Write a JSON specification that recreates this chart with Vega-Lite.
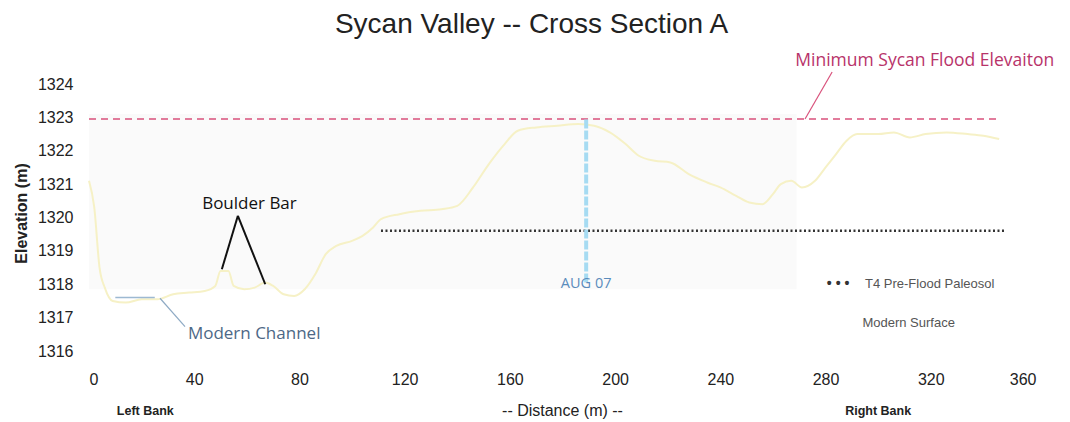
{
  "$schema": "https://vega.github.io/schema/vega-lite/v6.json",
  "width": 947,
  "height": 267,
  "autosize": {"type": "none"},
  "padding": {"left": 89, "top": 84, "right": 34, "bottom": 71},
  "background": "white",
  "config": {"view": {"stroke": null}, "axisY": {"labelOverlap": false}},
  "title": {"text": "Sycan Valley -- Cross Section A", "font": "Liberation Sans", "fontSize": 28, "fontWeight": "normal", "color": "#222", "frame": "group", "offset": -1, "dx": -31, "baseline": "middle"},
  "datasets": {
    "surface": [
      {"d": 0, "e": 1321.1}, {"d": 2, "e": 1320.3}, {"d": 4, "e": 1318.5}, {"d": 6, "e": 1317.9},
      {"d": 9, "e": 1317.5}, {"d": 14, "e": 1317.45}, {"d": 20, "e": 1317.55}, {"d": 26, "e": 1317.55},
      {"d": 32, "e": 1317.7}, {"d": 38, "e": 1317.75}, {"d": 44, "e": 1317.8}, {"d": 48, "e": 1317.95},
      {"d": 50, "e": 1318.4}, {"d": 53, "e": 1318.4}, {"d": 55, "e": 1317.95}, {"d": 59, "e": 1317.85},
      {"d": 63, "e": 1317.9}, {"d": 67, "e": 1318.05}, {"d": 70, "e": 1317.95}, {"d": 74, "e": 1317.7},
      {"d": 78, "e": 1317.65}, {"d": 82, "e": 1317.85}, {"d": 86, "e": 1318.3}, {"d": 90, "e": 1318.9},
      {"d": 94, "e": 1319.15}, {"d": 100, "e": 1319.3}, {"d": 104, "e": 1319.45}, {"d": 108, "e": 1319.7},
      {"d": 111, "e": 1319.95}, {"d": 118, "e": 1320.1}, {"d": 126, "e": 1320.2}, {"d": 134, "e": 1320.25},
      {"d": 140, "e": 1320.35}, {"d": 146, "e": 1320.9}, {"d": 152, "e": 1321.6}, {"d": 158, "e": 1322.2},
      {"d": 163, "e": 1322.6}, {"d": 170, "e": 1322.7}, {"d": 178, "e": 1322.75}, {"d": 186, "e": 1322.8},
      {"d": 192, "e": 1322.75}, {"d": 198, "e": 1322.55}, {"d": 204, "e": 1322.2}, {"d": 209, "e": 1321.85},
      {"d": 215, "e": 1321.7}, {"d": 221, "e": 1321.65}, {"d": 228, "e": 1321.3}, {"d": 235, "e": 1321.05},
      {"d": 240, "e": 1320.9}, {"d": 246, "e": 1320.65}, {"d": 251, "e": 1320.45}, {"d": 256, "e": 1320.4},
      {"d": 260, "e": 1320.7}, {"d": 263, "e": 1321.0}, {"d": 267, "e": 1321.1}, {"d": 271, "e": 1320.9},
      {"d": 276, "e": 1321.1}, {"d": 280, "e": 1321.5}, {"d": 284, "e": 1321.9}, {"d": 288, "e": 1322.3},
      {"d": 292, "e": 1322.5}, {"d": 300, "e": 1322.5}, {"d": 306, "e": 1322.55}, {"d": 312, "e": 1322.4},
      {"d": 318, "e": 1322.5}, {"d": 326, "e": 1322.55}, {"d": 334, "e": 1322.5}, {"d": 340, "e": 1322.45},
      {"d": 346, "e": 1322.35}
    ],
    "shade": [{"d": 0, "d2": 269, "e": 1317.85, "e2": 1323.1}],
    "flood": [{"d": 0, "d2": 346, "e": 1322.95}],
    "paleosol": [{"d": 111, "d2": 348, "e": 1319.6}],
    "aug": [{"d": 189, "e": 1318.05, "e2": 1322.95}],
    "channel": [{"d": 10, "d2": 25, "e": 1317.6}],
    "boulderLeaders": [
      {"d": 56.6, "e": 1320.05, "d2": 50.5, "e2": 1318.45},
      {"d": 56.6, "e": 1320.05, "d2": 67, "e2": 1318.0}
    ],
    "channelLeader": [{"d": 27, "e": 1317.58, "d2": 36.5, "e2": 1316.73}],
    "floodLeader": [{"d": 282.5, "e": 1324.36, "d2": 272.2, "e2": 1322.95}],
    "annotBlack": [{"d": 61, "e": 1320.41, "label": "Boulder Bar"}],
    "annotChannel": [{"d": 37.6, "e": 1316.5, "label": "Modern Channel"}],
    "annotFlood": [{"d": 268.5, "e": 1324.7, "label": "Minimum Sycan Flood Elevaiton"}],
    "annotAug": [{"d": 189, "e": 1318.0, "label": "AUG 07"}],
    "legendDots": [{"d": 280.5, "e": 1318.0, "label": "• • •"}],
    "legendText": [
      {"d": 295, "e": 1318.0, "label": "T4 Pre-Flood Paleosol"},
      {"d": 294, "e": 1316.85, "label": "Modern Surface"}
    ],
    "banks": [
      {"d": 21.4, "e": 1314.2, "label": "Left Bank"},
      {"d": 300, "e": 1314.2, "label": "Right Bank"}
    ]
  },
  "encoding": {
    "x": {"field": "d", "type": "quantitative", "scale": {"domain": [0, 360], "nice": false},
      "axis": {"values": [0, 40, 80, 120, 160, 200, 240, 280, 320, 360], "domain": false, "ticks": false, "grid": false, "labelOverlap": false,
        "labelFont": "Liberation Sans", "labelFontSize": 16, "labelColor": "#222", "labelPadding": 20,
        "title": "-- Distance (m) --", "titleFont": "Liberation Sans", "titleFontSize": 16, "titleFontWeight": "normal", "titleColor": "#222",
        "titleX": 473, "titleY": 59, "titleBaseline": "middle"}},
    "y": {"field": "e", "type": "quantitative", "scale": {"domain": [1316, 1324], "nice": false, "zero": false},
      "axis": {"values": [1316, 1317, 1318, 1319, 1320, 1321, 1322, 1323, 1324], "tickCount": 9, "format": "d", "labelOverlap": false, "domain": false, "ticks": false, "grid": false,
        "labelFont": "Liberation Sans", "labelFontSize": 16, "labelColor": "#222", "labelPadding": 16,
        "title": "Elevation (m)", "titleFont": "Liberation Sans", "titleFontSize": 16, "titleFontWeight": "bold", "titleColor": "#222",
        "titleX": -68, "titleY": 129, "titleAngle": -90, "titleAlign": "center", "titleBaseline": "middle"}}
  },
  "layer": [
    {
      "data": {"name": "shade"},
      "mark": {"type": "rect", "color": "#fafafa"},
      "encoding": {"x2": {"field": "d2"}, "y2": {"field": "e2"}}
    },
    {
      "data": {"name": "flood"},
      "mark": {"type": "rule", "color": "#d9527c", "strokeWidth": 1.6, "strokeDash": [7, 5]},
      "encoding": {"x2": {"field": "d2"}}
    },
    {
      "data": {"name": "surface"},
      "mark": {"type": "line", "color": "#f6f1c6", "strokeWidth": 2, "interpolate": "monotone"},
      "encoding": {}
    },
    {
      "data": {"name": "paleosol"},
      "mark": {"type": "rule", "color": "#333", "strokeWidth": 2.5, "strokeDash": [2, 2.5]},
      "encoding": {"x2": {"field": "d2"}}
    },
    {
      "data": {"name": "aug"},
      "mark": {"type": "rule", "color": "#a6dbf2", "strokeWidth": 4, "strokeDash": [9, 2]},
      "encoding": {"y2": {"field": "e2"}}
    },
    {
      "data": {"name": "channel"},
      "mark": {"type": "rule", "color": "#9db9d2", "strokeWidth": 1.5},
      "encoding": {"x2": {"field": "d2"}}
    },
    {
      "data": {"name": "boulderLeaders"},
      "mark": {"type": "rule", "color": "#111", "strokeWidth": 2},
      "encoding": {"x2": {"field": "d2"}, "y2": {"field": "e2"}}
    },
    {
      "data": {"name": "channelLeader"},
      "mark": {"type": "rule", "color": "#8eaac4", "strokeWidth": 1.2},
      "encoding": {"x2": {"field": "d2"}, "y2": {"field": "e2"}}
    },
    {
      "data": {"name": "floodLeader"},
      "mark": {"type": "rule", "color": "#d9527c", "strokeWidth": 1.2, "clip": false},
      "encoding": {"x2": {"field": "d2"}, "y2": {"field": "e2"}}
    },
    {
      "data": {"name": "annotBlack"},
      "mark": {"type": "text", "font": "Open Sans", "fontSize": 17, "color": "#111", "align": "center", "baseline": "middle"},
      "encoding": {"text": {"field": "label"}}
    },
    {
      "data": {"name": "annotChannel"},
      "mark": {"type": "text", "font": "Open Sans", "fontSize": 17, "color": "#4d6886", "align": "left", "baseline": "middle"},
      "encoding": {"text": {"field": "label"}}
    },
    {
      "data": {"name": "annotFlood"},
      "mark": {"type": "text", "font": "Open Sans", "fontSize": 17.5, "color": "#b8336a", "align": "left", "baseline": "middle", "clip": false},
      "encoding": {"text": {"field": "label"}}
    },
    {
      "data": {"name": "annotAug"},
      "mark": {"type": "text", "font": "Open Sans", "fontSize": 14.5, "color": "#5a8cbc", "align": "center", "baseline": "middle"},
      "encoding": {"text": {"field": "label"}}
    },
    {
      "data": {"name": "legendDots"},
      "mark": {"type": "text", "font": "Liberation Sans", "fontSize": 14, "fontWeight": "bold", "color": "#333", "align": "left", "baseline": "middle"},
      "encoding": {"text": {"field": "label"}}
    },
    {
      "data": {"name": "legendText"},
      "mark": {"type": "text", "font": "Liberation Sans", "fontSize": 13, "color": "#555", "align": "left", "baseline": "middle"},
      "encoding": {"text": {"field": "label"}}
    },
    {
      "data": {"name": "banks"},
      "mark": {"type": "text", "font": "Liberation Sans", "fontSize": 12.5, "fontWeight": "bold", "color": "#222", "align": "center", "baseline": "middle", "clip": false},
      "encoding": {"text": {"field": "label"}}
    }
  ]
}
